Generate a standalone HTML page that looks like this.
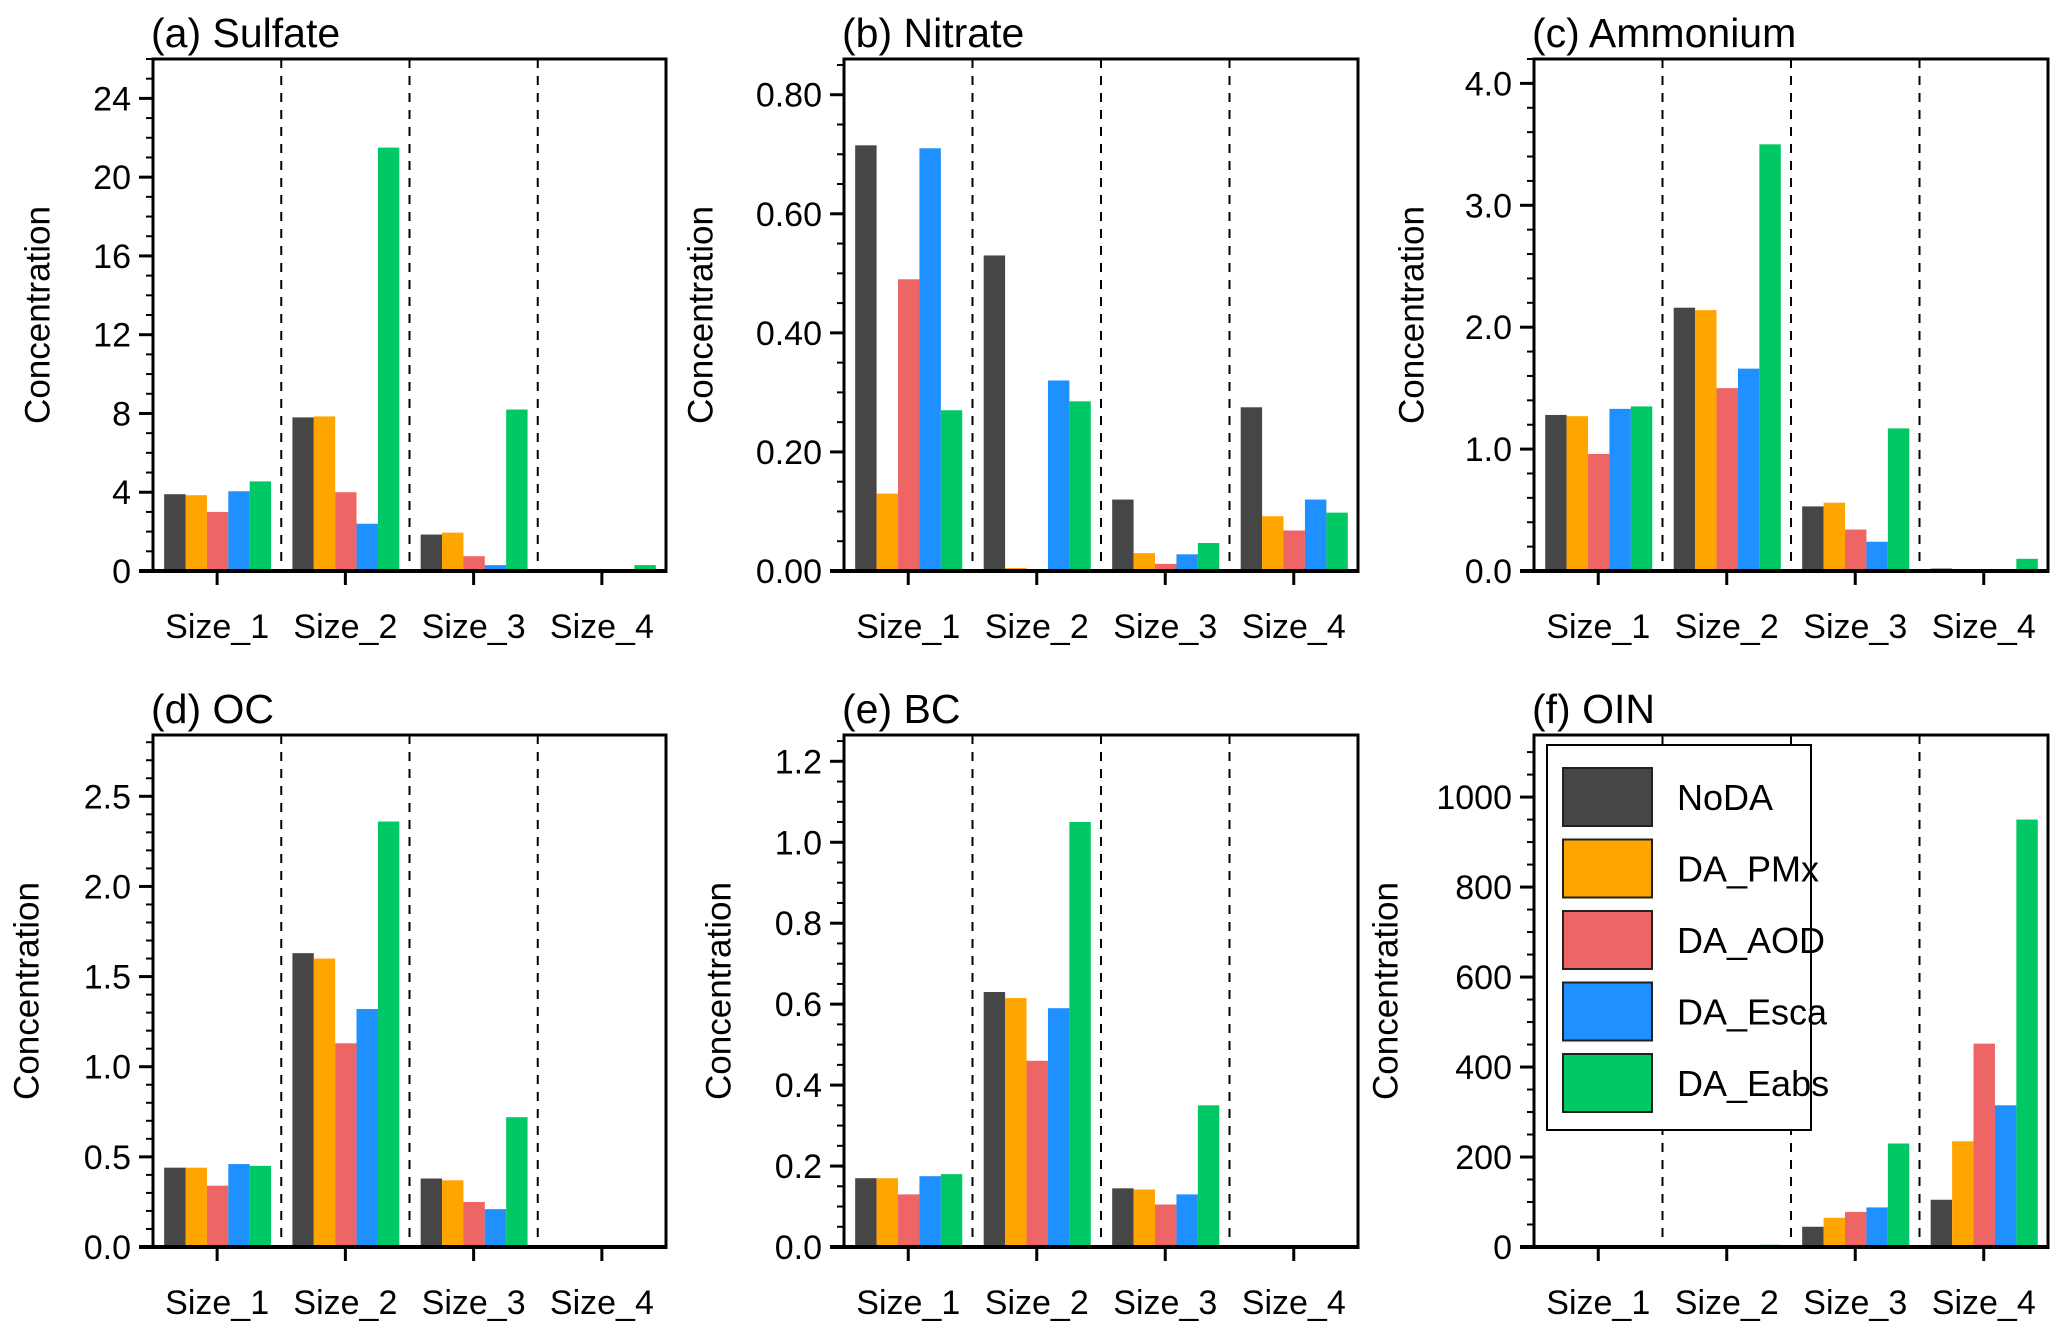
<!DOCTYPE html>
<html><head><meta charset="utf-8"><style>
body{margin:0;background:#fff}
svg{display:block}
text{font-family:"Liberation Sans",Arial,sans-serif;fill:#000}
</style></head><body>
<svg id="chart" width="2067" height="1335" viewBox="0 0 2067 1335" xmlns="http://www.w3.org/2000/svg"></svg>
<script>
const categories = ["Size_1","Size_2","Size_3","Size_4"];
const seriesNames = ["NoDA","DA_PMx","DA_AOD","DA_Esca","DA_Eabs"];
const colors = ["#464646","#ffa500","#ee6565","#1e90ff","#00c864"];

const sulfateNoDA=[3.9,7.8,1.85,0], sulfatePMx=[3.85,7.85,1.95,0], sulfateAOD=[3.0,4.0,0.75,0], sulfateEsca=[4.05,2.4,0.3,0], sulfateEabs=[4.55,21.5,8.2,0.3];
const nitrateNoDA=[0.715,0.53,0.12,0.275], nitratePMx=[0.13,0.005,0.03,0.092], nitrateAOD=[0.49,0,0.012,0.068], nitrateEsca=[0.71,0.32,0.028,0.12], nitrateEabs=[0.27,0.285,0.047,0.098];
const ammoniumNoDA=[1.28,2.16,0.53,0.02], ammoniumPMx=[1.27,2.14,0.56,0.01], ammoniumAOD=[0.96,1.5,0.34,0.005], ammoniumEsca=[1.33,1.66,0.24,0.003], ammoniumEabs=[1.35,3.5,1.17,0.1];
const ocNoDA=[0.44,1.63,0.38,0], ocPMx=[0.44,1.6,0.37,0], ocAOD=[0.34,1.13,0.25,0], ocEsca=[0.46,1.32,0.21,0], ocEabs=[0.45,2.36,0.72,0];
const bcNoDA=[0.17,0.63,0.145,0], bcPMx=[0.17,0.615,0.142,0], bcAOD=[0.13,0.46,0.105,0], bcEsca=[0.175,0.59,0.13,0], bcEabs=[0.18,1.05,0.35,0];
const oinNoDA=[0,1,45,105], oinPMx=[0,2,65,235], oinAOD=[0,1,78,452], oinEsca=[0,1,88,315], oinEabs=[0,5,230,950];

const ticksA=["0","4","8","12","16","20","24"], ticksB=["0.00","0.20","0.40","0.60","0.80"], ticksC=["0.0","1.0","2.0","3.0","4.0"];
const ticksD=["0.0","0.5","1.0","1.5","2.0","2.5"], ticksE=["0.0","0.2","0.4","0.6","0.8","1.0","1.2"], ticksF=["0","200","400","600","800","1000"];

const panels=[
 {name:"sulfate",title:"(a) Sulfate",x0:153,x1:666,y0:59,y1:571,max:26,minor:1,ticks:ticksA,data:[sulfateNoDA,sulfatePMx,sulfateAOD,sulfateEsca,sulfateEabs],ylx:40},
 {name:"nitrate",title:"(b) Nitrate",x0:844,x1:1358,y0:59,y1:571,max:0.86,minor:0.05,ticks:ticksB,data:[nitrateNoDA,nitratePMx,nitrateAOD,nitrateEsca,nitrateEabs],ylx:703},
 {name:"ammonium",title:"(c) Ammonium",x0:1534,x1:2048,y0:59,y1:571,max:4.2,minor:0.2,ticks:ticksC,data:[ammoniumNoDA,ammoniumPMx,ammoniumAOD,ammoniumEsca,ammoniumEabs],ylx:1414},
 {name:"oc",title:"(d) OC",x0:153,x1:666,y0:735,y1:1247,max:2.84,minor:0.1,ticks:ticksD,data:[ocNoDA,ocPMx,ocAOD,ocEsca,ocEabs],ylx:29},
 {name:"bc",title:"(e) BC",x0:844,x1:1358,y0:735,y1:1247,max:1.265,minor:0.05,ticks:ticksE,data:[bcNoDA,bcPMx,bcAOD,bcEsca,bcEabs],ylx:721},
 {name:"oin",title:"(f) OIN",x0:1534,x1:2048,y0:735,y1:1247,max:1138,minor:50,ticks:ticksF,data:[oinNoDA,oinPMx,oinAOD,oinEsca,oinEabs],ylx:1388,legend:true}
];
const NS="http://www.w3.org/2000/svg";
const svg=document.getElementById('chart');
function mk(tag,attrs,parent){const e=document.createElementNS(NS,tag);for(const k in attrs)e.setAttribute(k,attrs[k]);(parent||svg).appendChild(e);return e;}

panels.forEach(p=>{
  const g=mk('g',{});
  
  
  const yS=v=>p.y1-(v/p.max)*(p.y1-p.y0);
  const gw=(p.x1-p.x0)/categories.length;
  const xS=i=>p.x0+i*gw;
  p.data.forEach((arr,s)=>{
    arr.forEach((v,i)=>{
      if(v<=0)return;
      const bw=gw*0.1667;
      const r=mk('rect',{x:xS(i)+gw*0.087+s*bw,y:yS(v),width:bw,height:p.y1-yS(v),fill:colors[s]},g);
      
      
    });
  });
  for(let i=1;i<categories.length;i++){
    const l=mk('line',{x1:xS(i),x2:xS(i),y1:p.y0,y2:p.y1,stroke:'#000','stroke-width':2,'stroke-dasharray':'9,8'},g);
    
    
  }
  if(p.legend){
    const lg=mk('g',{},g);
    
    
    mk('rect',{x:1547,y:745,width:264,height:385,fill:'#fff',stroke:'#000','stroke-width':2},lg);
    seriesNames.forEach((n,s)=>{
      const cy=797+s*71.5;
      const e=mk('g',{},lg);
      
      
      mk('rect',{x:1563,y:cy-29,width:89,height:58,fill:colors[s],stroke:'#222','stroke-width':2},e);
      const t=mk('text',{x:1677,y:cy+13,'font-size':36},e);t.textContent=n;
    });
  }
  const f=mk('rect',{x:p.x0,y:p.y0,width:p.x1-p.x0,height:p.y1-p.y0,fill:'none',stroke:'#000','stroke-width':3},g);
  
  
  mk('line',{x1:p.x0-14,x2:p.x1+1.5,y1:p.y1,y2:p.y1,stroke:'#000','stroke-width':4},g);
  for(let v=0;v<=p.max+1e-9;v+=p.minor){
    mk('line',{x1:p.x0-7,x2:p.x0,y1:yS(v),y2:yS(v),stroke:'#000','stroke-width':2},g);
  }
  p.ticks.forEach(t=>{
    const v=parseFloat(t),y=yS(v);
    mk('line',{x1:p.x0-14,x2:p.x0,y1:y,y2:y,stroke:'#000','stroke-width':3},g);
    const tx=mk('text',{x:p.x0-22,y:y+12,'font-size':34,'text-anchor':'end'},g);
    tx.textContent=t;
    
    
  });
  categories.forEach((c,i)=>{
    const cx=xS(i)+gw/2;
    mk('line',{x1:cx,x2:cx,y1:p.y1,y2:p.y1+14,stroke:'#000','stroke-width':3},g);
    const tx=mk('text',{x:cx,y:p.y1+67,'font-size':34,'text-anchor':'middle'},g);
    tx.textContent=c;
    
    
  });
  const ti=mk('text',{x:p.x0-2,y:p.y0-12,'font-size':41},g);
  ti.textContent=p.title;
  
  
  const cy=(p.y0+p.y1)/2;
  const yl=mk('text',{x:p.ylx,y:cy,'font-size':35,'text-anchor':'middle',transform:`rotate(-90 ${p.ylx} ${cy})`,'dominant-baseline':'middle'},g);
  yl.textContent='Concentration';
  
  
});
</script>
</body></html>
